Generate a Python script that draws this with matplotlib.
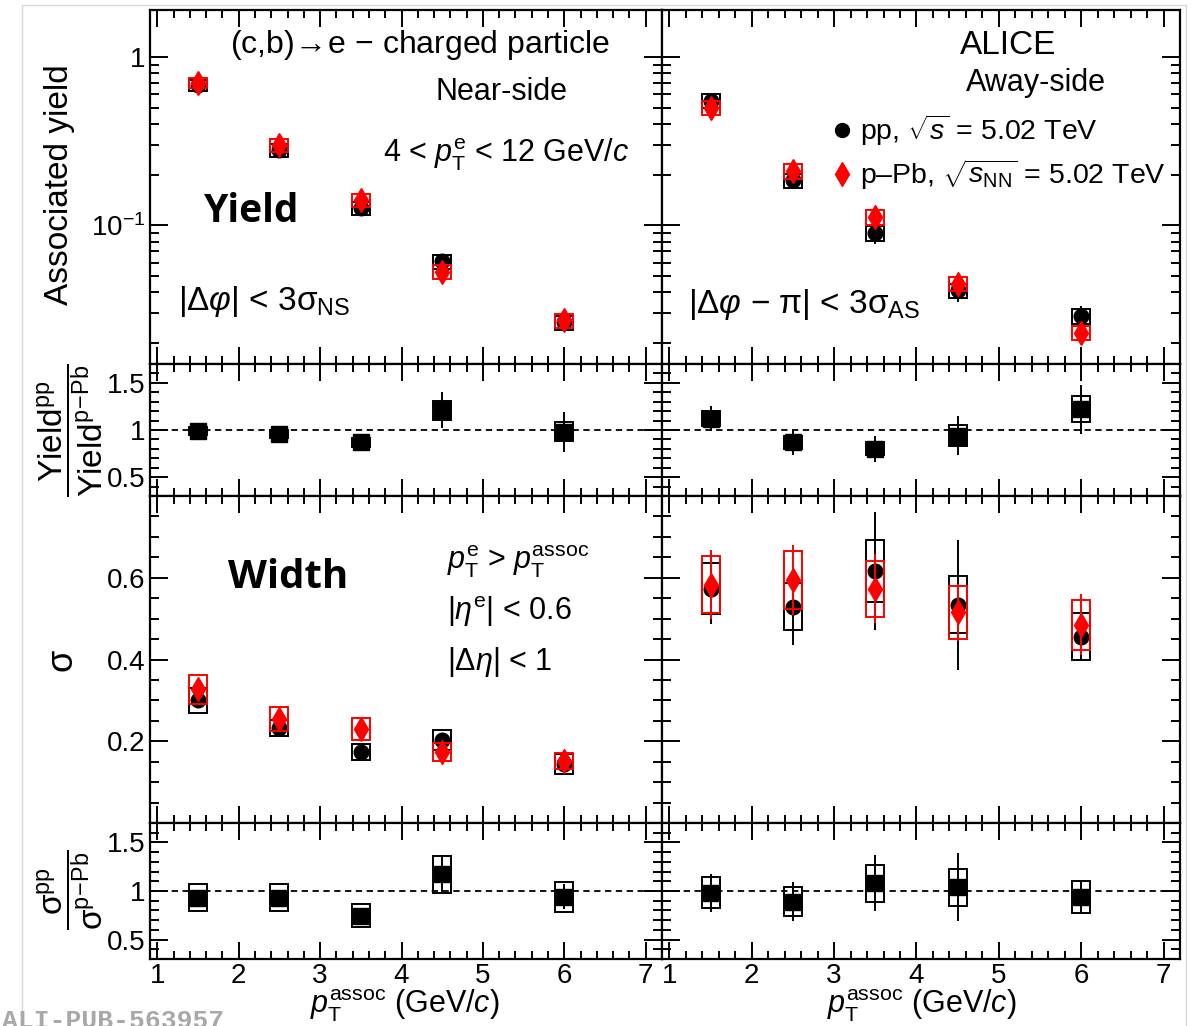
import matplotlib
matplotlib.use("Agg")
import matplotlib.pyplot as plt
from matplotlib.patches import Rectangle
from matplotlib.lines import Line2D
from matplotlib.ticker import (MultipleLocator, FixedLocator, FixedFormatter,
                               NullFormatter, LogLocator)

plt.rcParams['font.family'] = ['Liberation Sans', 'DejaVu Sans']
plt.rcParams['mathtext.fontset'] = 'custom'
plt.rcParams['mathtext.rm'] = 'Liberation Sans'
plt.rcParams['mathtext.it'] = 'Liberation Sans:italic'
plt.rcParams['mathtext.bf'] = 'Liberation Sans:bold'
plt.rcParams['mathtext.sf'] = 'Liberation Sans'

# ---------------------------------------------------------------- data
pt_assoc = [1.5, 2.5, 3.5, 4.5, 6.0]
x_ticks = [1, 2, 3, 4, 5, 6, 7]

# near-side yield
ns_yield_pp = [0.68, 0.28, 0.126, 0.061, 0.0265]
ns_yield_pp_stat = [0.010, 0.006, 0.005, 0.004, 0.003]
ns_yield_pp_sys = [0.050, 0.024, 0.011, 0.006, 0.0025]
ns_yield_ppb = [0.70, 0.30, 0.141, 0.053, 0.0272]
ns_yield_ppb_stat = [0.010, 0.005, 0.004, 0.003, 0.002]
ns_yield_ppb_sys = [0.050, 0.026, 0.013, 0.005, 0.0026]

# away-side yield
as_yield_pp = [0.55, 0.185, 0.0895, 0.041, 0.029]
as_yield_pp_stat = [0.020, 0.015, 0.012, 0.006, 0.004]
as_yield_pp_sys = [0.050, 0.018, 0.009, 0.004, 0.003]
as_yield_ppb = [0.50, 0.21, 0.112, 0.045, 0.023]
as_yield_ppb_stat = [0.015, 0.010, 0.006, 0.003, 0.002]
as_yield_ppb_sys = [0.050, 0.021, 0.011, 0.0045, 0.0023]

# yield ratios pp / p-Pb
ns_yield_ratio = [0.99, 0.96, 0.87, 1.21, 0.98]
ns_yield_ratio_stat = [0.03, 0.04, 0.08, 0.19, 0.21]
ns_yield_ratio_sys = [0.04, 0.04, 0.05, 0.10, 0.10]
as_yield_ratio = [1.12, 0.87, 0.80, 0.94, 1.22]
as_yield_ratio_stat = [0.13, 0.13, 0.14, 0.21, 0.26]
as_yield_ratio_sys = [0.08, 0.07, 0.07, 0.11, 0.14]

# near-side width
ns_width_pp = [0.300, 0.232, 0.173, 0.203, 0.145]
ns_width_pp_stat = [0.010, 0.010, 0.008, 0.010, 0.010]
ns_width_pp_sys = [0.030, 0.020, 0.020, 0.025, 0.024]
ns_width_ppb = [0.327, 0.254, 0.230, 0.173, 0.152]
ns_width_ppb_stat = [0.010, 0.010, 0.010, 0.020, 0.010]
ns_width_ppb_sys = [0.035, 0.030, 0.026, 0.022, 0.020]

# away-side width
as_width_pp = [0.573, 0.529, 0.617, 0.534, 0.456]
as_width_pp_stat = [0.086, 0.094, 0.144, 0.159, 0.060]
as_width_pp_sys = [0.062, 0.058, 0.076, 0.070, 0.057]
as_width_ppb = [0.583, 0.595, 0.573, 0.515, 0.485]
as_width_ppb_stat = [0.085, 0.085, 0.084, 0.070, 0.075]
as_width_ppb_sys = [0.070, 0.071, 0.069, 0.064, 0.061]

# width ratios pp / p-Pb
ns_width_ratio = [0.93, 0.93, 0.745, 1.17, 0.94]
ns_width_ratio_stat = [0.06, 0.06, 0.05, 0.19, 0.13]
ns_width_ratio_sys = [0.14, 0.14, 0.12, 0.195, 0.155]
as_width_ratio = [0.98, 0.89, 1.08, 1.04, 0.94]
as_width_ratio_stat = [0.20, 0.20, 0.29, 0.35, 0.165]
as_width_ratio_sys = [0.16, 0.15, 0.19, 0.19, 0.165]

# ---------------------------------------------------------------- layout
W, H = 1193, 1026
fig = plt.figure(figsize=(W / 100, H / 100), dpi=100)

RED = '#ff0000'
BLACK = '#000000'
FS_TICK = 20
FS_TEXT = 22


def px_axes(x0, y0, x1, y1):
    return fig.add_axes([x0 / W, 1 - y1 / H, (x1 - x0) / W, (y1 - y0) / H])


def fxy(x, y):
    return x / W, 1 - y / H


def style(ax, xlabels, ylabels):
    ax.set_xlim(0.91, 7.2)
    ax.xaxis.set_major_locator(FixedLocator(x_ticks))
    ax.xaxis.set_minor_locator(MultipleLocator(0.2))
    ax.tick_params(which='both', direction='in', top=True, right=True,
                   bottom=True, left=True, width=1.4, labelsize=FS_TICK, pad=3)
    ax.tick_params(axis='x', which='major', length=12)
    ax.tick_params(axis='x', which='minor', length=6)
    ax.tick_params(axis='y', which='major', length=13)
    ax.tick_params(axis='y', which='minor', length=6.5)
    ax.tick_params(labelbottom=xlabels, labelleft=ylabels)
    for s in ax.spines.values():
        s.set_linewidth(1.6)


def draw_series(ax, y, stat, sys, marker, color, ms, z):
    for xi, yi, si in zip(pt_assoc, y, sys):
        ax.add_patch(Rectangle((xi - 0.11, yi - si), 0.22, 2 * si, fill=False,
                               ec=color, lw=1.4, zorder=z))
    ax.errorbar(pt_assoc, y, yerr=stat, fmt=marker, color=color, ms=ms,
                mec=color, mfc=color, elinewidth=1.4, capsize=0, zorder=z + 0.5)


def ratio_panel(ax, y, stat, sys):
    ax.set_ylim(0.3, 1.7)
    ax.yaxis.set_major_locator(FixedLocator([0.5, 1.0, 1.5]))
    ax.yaxis.set_major_formatter(FixedFormatter(['0.5', '1', '1.5']))
    ax.yaxis.set_minor_locator(MultipleLocator(0.1))
    ax.axhline(1.0, color=BLACK, lw=1.3, ls=(0, (3.5, 2.5)), zorder=1)
    draw_series(ax, y, stat, sys, 's', BLACK, 11, 3)


def yield_panel(ax, pp, pp_stat, pp_sys, ppb, ppb_stat, ppb_sys):
    ax.set_yscale('log')
    ax.set_ylim(0.015, 1.9)
    ax.yaxis.set_major_locator(FixedLocator([0.1, 1.0]))
    ax.yaxis.set_major_formatter(FixedFormatter(['$10^{-1}$', '1']))
    ax.yaxis.set_minor_locator(LogLocator(base=10, subs=range(2, 10)))
    ax.yaxis.set_minor_formatter(NullFormatter())
    draw_series(ax, pp, pp_stat, pp_sys, 'o', BLACK, 10.5, 3)
    draw_series(ax, ppb, ppb_stat, ppb_sys, 'd', RED, 12, 4)


def width_panel(ax, pp, pp_stat, pp_sys, ppb, ppb_stat, ppb_sys):
    ax.set_ylim(0.0, 0.8)
    ax.yaxis.set_major_locator(FixedLocator([0.2, 0.4, 0.6]))
    ax.yaxis.set_major_formatter(FixedFormatter(['0.2', '0.4', '0.6']))
    ax.yaxis.set_minor_locator(MultipleLocator(0.05))
    draw_series(ax, pp, pp_stat, pp_sys, 'o', BLACK, 10.5, 3)
    draw_series(ax, ppb, ppb_stat, ppb_sys, 'd', RED, 12, 4)


XL, XM, XR = 150, 662, 1180
Y0, Y1, Y2, Y3, Y4 = 10, 364, 496, 823, 959

ax_ns_y = px_axes(XL, Y0, XM, Y1)
ax_as_y = px_axes(XM, Y0, XR, Y1)
ax_ns_yr = px_axes(XL, Y1, XM, Y2)
ax_as_yr = px_axes(XM, Y1, XR, Y2)
ax_ns_w = px_axes(XL, Y2, XM, Y3)
ax_as_w = px_axes(XM, Y2, XR, Y3)
ax_ns_wr = px_axes(XL, Y3, XM, Y4)
ax_as_wr = px_axes(XM, Y3, XR, Y4)

yield_panel(ax_ns_y, ns_yield_pp, ns_yield_pp_stat, ns_yield_pp_sys,
            ns_yield_ppb, ns_yield_ppb_stat, ns_yield_ppb_sys)
yield_panel(ax_as_y, as_yield_pp, as_yield_pp_stat, as_yield_pp_sys,
            as_yield_ppb, as_yield_ppb_stat, as_yield_ppb_sys)
ratio_panel(ax_ns_yr, ns_yield_ratio, ns_yield_ratio_stat, ns_yield_ratio_sys)
ratio_panel(ax_as_yr, as_yield_ratio, as_yield_ratio_stat, as_yield_ratio_sys)
width_panel(ax_ns_w, ns_width_pp, ns_width_pp_stat, ns_width_pp_sys,
            ns_width_ppb, ns_width_ppb_stat, ns_width_ppb_sys)
width_panel(ax_as_w, as_width_pp, as_width_pp_stat, as_width_pp_sys,
            as_width_ppb, as_width_ppb_stat, as_width_ppb_sys)
ratio_panel(ax_ns_wr, ns_width_ratio, ns_width_ratio_stat, ns_width_ratio_sys)
ratio_panel(ax_as_wr, as_width_ratio, as_width_ratio_stat, as_width_ratio_sys)

for ax in (ax_ns_y, ax_ns_yr, ax_ns_w):
    style(ax, False, True)
for ax in (ax_as_y, ax_as_yr, ax_as_w):
    style(ax, False, False)
style(ax_ns_wr, True, True)
style(ax_as_wr, True, False)
for ax in (ax_ns_wr, ax_as_wr):
    ax.xaxis.set_major_formatter(FixedFormatter([str(v) for v in x_ticks]))

# ---------------------------------------------------------------- labels
fig.text(*fxy(60, 185), 'Associated yield', rotation=90, ha='center',
         va='center', fontsize=24)
fig.text(*fxy(62, 660), 'σ', rotation=90, ha='center', va='center', fontsize=26)
fig.text(*fxy(70, 430),
         r'$\dfrac{\mathrm{Yield}^{\mathrm{pp}}}{\mathrm{Yield}^{\mathrm{p\!-\!Pb}}}$',
         rotation=90, ha='center', va='center', fontsize=24)
fig.text(*fxy(70, 890),
         r'$\dfrac{\mathrm{σ}^{\mathrm{pp}}}{\mathrm{σ}^{\mathrm{p\!-\!Pb}}}$',
         rotation=90, ha='center', va='center', fontsize=24)

xlab = r'$p_{\mathrm{T}}^{\mathrm{assoc}}$ (GeV/$c$)'
fig.text(*fxy(405, 1013), xlab, ha='center', va='baseline', fontsize=22)
fig.text(*fxy(922, 1013), xlab, ha='center', va='baseline', fontsize=22)

# near-side annotations
fig.text(*fxy(420, 45), r'(c,b)$\!\rightarrow\!$e − charged particle',
         ha='center', va='center', fontsize=23)
fig.text(*fxy(501, 92), 'Near-side', ha='center', va='center', fontsize=FS_TEXT)
fig.text(*fxy(383, 155), r'4 < $p_{\mathrm{T}}^{\mathrm{e}}$ < 12 GeV/$c$',
         ha='left', va='center', fontsize=FS_TEXT)
fig.text(*fxy(252, 212), 'Yield', ha='center', va='center', fontsize=28,
         family=['Open Sans', 'DejaVu Sans'], weight='bold')
fig.text(*fxy(178, 302), r'|Δ$\varphi$| < 3σ$_{\mathrm{NS}}$', ha='left',
         va='center', fontsize=24)

# away-side annotations
fig.text(*fxy(1008, 45), 'ALICE', ha='center', va='center', fontsize=24)
fig.text(*fxy(1036, 83), 'Away-side', ha='center', va='center', fontsize=FS_TEXT)
fig.text(*fxy(688, 305), r'|Δ$\varphi$ − π| < 3σ$_{\mathrm{AS}}$', ha='left',
         va='center', fontsize=24)

handles = [Line2D([], [], ls='none', marker='o', ms=10, color=BLACK),
           Line2D([], [], ls='none', marker='d', ms=12, color=RED)]
labels = [r'pp, $\sqrt{s}$ = 5.02 TeV',
          r'p–Pb, $\sqrt{s_{\mathrm{NN}}}$ = 5.02 TeV']
fig.legend(handles, labels, loc='upper left', bbox_to_anchor=fxy(832, 112),
           frameon=False, fontsize=20.5, handlelength=0.7,
           handletextpad=0.3, labelspacing=0.35, borderpad=0, borderaxespad=0)

# width annotations
fig.text(*fxy(288, 578), 'Width', ha='center', va='center', fontsize=29,
         family=['Open Sans', 'DejaVu Sans'], weight='bold')
fig.text(*fxy(447, 562), r'$p_{\mathrm{T}}^{\mathrm{e}}$ > $p_{\mathrm{T}}^{\mathrm{assoc}}$',
         ha='left', va='center', fontsize=FS_TEXT)
fig.text(*fxy(447, 612), r'|$\eta^{\mathrm{e}}$| < 0.6', ha='left',
         va='center', fontsize=FS_TEXT)
fig.text(*fxy(447, 662), r'|Δ$\eta$| < 1', ha='left', va='center',
         fontsize=FS_TEXT)

# page frame and publication tag
fig.add_artist(Rectangle((22 / W, -0.01), (1186 - 22) / W, 1.01 - 5 / H,
                         transform=fig.transFigure, fill=False,
                         ec='#d9d9d9', lw=1))
fig.text(*fxy(2, 1009), 'ALI-PUB-563957', ha='left', va='top', fontsize=19,
         family=['Liberation Mono', 'DejaVu Sans Mono'], weight='bold',
         color='#a8a8a8')

fig.savefig('out.png', dpi=100)
